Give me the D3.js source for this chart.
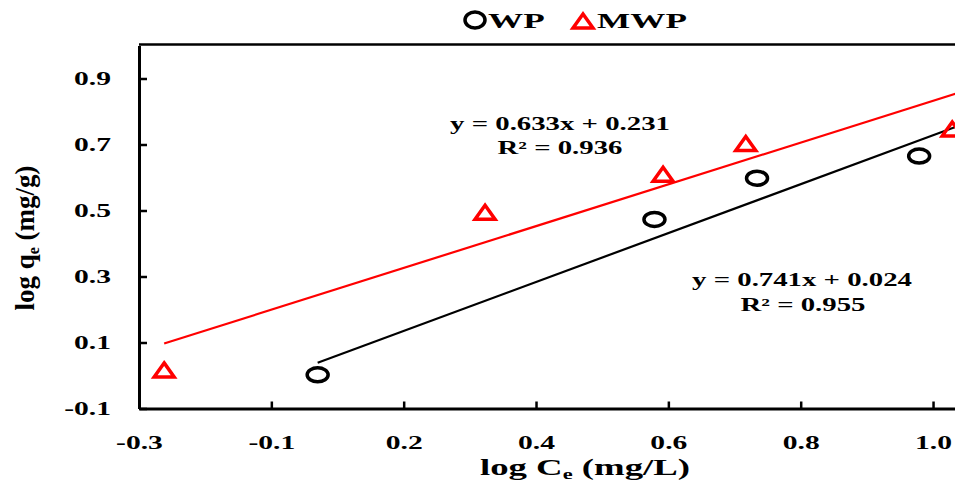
<!DOCTYPE html>
<html><head><meta charset="utf-8">
<script src="https://cdn.jsdelivr.net/npm/d3@7"></script>
<style>body{margin:0;background:#fff}svg{display:block}text{font-family:"Liberation Serif","Times New Roman",serif;font-weight:bold}</style>
</head><body>
<script>
// ---- data ----
const wpX = [0.020, 0.529, 0.684, 0.929];
const wpY = [0.002, 0.473, 0.598, 0.665];
const mwpX = [-0.212, 0.273, 0.542, 0.667, 0.979];
const mwpY = [0.017, 0.495, 0.610, 0.703, 0.747];
const wpFit = {slope: 0.741, intercept: 0.024, r2: "0.955"};
const mwpFit = {slope: 0.633, intercept: 0.231, r2: "0.936"};
const xTickValues = [-0.25, -0.05, 0.15, 0.35, 0.55, 0.75, 0.95];
const xTickLabels = ["-0.3", "-0.1", "0.2", "0.4", "0.6", "0.8", "1.0"];
const yTickValues = [-0.1, 0.1, 0.3, 0.5, 0.7, 0.9];
const yTickLabels = ["-0.1", "0.1", "0.3", "0.5", "0.7", "0.9"];
const seriesNames = ["WP", "MWP"];

const W = 955, H = 483, SX = 1.6;
const svg = d3.select("body").append("svg").attr("width", W).attr("height", H);

const xDomain = [-0.25, 1.05], yDomain = [-0.1, 1.0];
const x = d3.scaleLinear().domain(xDomain).range([139, 139 + 661.7 * (xDomain[1] - xDomain[0])]);
const y = d3.scaleLinear().domain(yDomain).range([408.5, 45.5]);

svg.append("clipPath").attr("id", "plot").append("rect")
  .attr("x", x(xDomain[0])).attr("y", y(yDomain[1]))
  .attr("width", x(xDomain[1]) - x(xDomain[0])).attr("height", y(yDomain[0]) - y(yDomain[1]));

// frame top
svg.append("line").attr("x1", x(xDomain[0])).attr("x2", x(xDomain[1]))
  .attr("y1", y(yDomain[1]) - 1).attr("y2", y(yDomain[1]) - 1).attr("stroke", "#000").attr("stroke-width", 2.5);

// axes
const xAxis = d3.axisBottom(x).tickValues(xTickValues).tickSize(0).tickFormat((d, i) => xTickLabels[i]);
const gx = svg.append("g").attr("transform", `translate(0,${y(yDomain[0])})`).call(xAxis);
gx.select(".domain").attr("stroke-width", 3);
gx.selectAll(".tick line").attr("y2", -7).attr("stroke-width", 2.5);
gx.selectAll(".tick text").attr("y", 0).attr("dy", 0).attr("font-size", 18.5).attr("fill", "#000")
  .attr("text-anchor", "middle")
  .attr("transform", `translate(0,40) scale(${SX},1)`);

const yAxis = d3.axisLeft(y).tickValues(yTickValues).tickSize(0).tickFormat((d, i) => yTickLabels[i]);
const gy = svg.append("g").attr("transform", `translate(${x(xDomain[0])},0)`).call(yAxis);
gy.select(".domain").attr("stroke-width", 3);
gy.selectAll(".tick line").attr("x2", 8).attr("stroke-width", 2.5);
gy.selectAll(".tick text").attr("x", 0).attr("dy", "0.35em").attr("font-size", 18.5).attr("fill", "#000")
  .attr("text-anchor", "end")
  .attr("transform", `translate(-28,0) scale(${SX},1)`);
svg.selectAll(".domain").attr("stroke", "#000");

// trend lines
const plot = svg.append("g").attr("clip-path", "url(#plot)");
function trend(xs, fit, color) {
  const x0 = d3.min(xs), x1 = xDomain[1];
  plot.append("line")
    .attr("x1", x(x0)).attr("y1", y(fit.slope * x0 + fit.intercept))
    .attr("x2", x(x1)).attr("y2", y(fit.slope * x1 + fit.intercept))
    .attr("stroke", color).attr("stroke-width", 2.2);
}
trend(mwpX, mwpFit, "#ff0000");
trend(wpX, wpFit, "#000");

// markers
const tri = (cx, cy) => `M${cx},${cy - 7} L${cx + 10},${cy + 7} L${cx - 10},${cy + 7} Z`;
plot.selectAll(".wp").data(wpX).enter().append("ellipse")
  .attr("cx", d => x(d)).attr("cy", (d, i) => y(wpY[i]))
  .attr("rx", 10.5).attr("ry", 7).attr("fill", "none").attr("stroke", "#000").attr("stroke-width", 3.5);
plot.selectAll(".mwp").data(mwpX).enter().append("path")
  .attr("d", (d, i) => tri(x(d), y(mwpY[i])))
  .attr("fill", "none").attr("stroke", "#ff0000").attr("stroke-width", 3.5).attr("stroke-linejoin", "miter");

// equations
function label(cx, cy, txt, size) {
  svg.append("text").attr("transform", `translate(${cx},${cy}) scale(${SX},1)`)
    .attr("text-anchor", "middle").attr("dy", "0.35em").attr("font-size", size || 18).attr("fill", "#000").text(txt);
}
const fmt = d3.format(".3f");
label(560, 124, `y = ${fmt(mwpFit.slope)}x + ${fmt(mwpFit.intercept)}`);
label(560, 148, `R² = ${mwpFit.r2}`);
label(802, 280, `y = ${fmt(wpFit.slope)}x + ${fmt(wpFit.intercept)}`);
label(803, 305, `R² = ${wpFit.r2}`);

// axis titles
const xt = svg.append("text").attr("transform", `translate(585,475) scale(${SX},1)`)
  .attr("text-anchor", "middle").attr("font-size", 23).attr("fill", "#000");
xt.append("tspan").text("log C");
xt.append("tspan").attr("font-size", 14).attr("dy", 4).text("e");
xt.append("tspan").attr("dy", -4).text(" (mg/L)");

const yt = svg.append("text").attr("transform", `translate(34,238) rotate(-90)`)
  .attr("text-anchor", "middle").attr("font-size", 27).attr("fill", "#000");
yt.append("tspan").text("log q");
yt.append("tspan").attr("font-size", 16).attr("dy", 5).text("e");
yt.append("tspan").attr("dy", -5).text(" (mg/g)");

// legend
const lg = svg.append("g");
lg.append("ellipse").attr("cx", 475).attr("cy", 20).attr("rx", 10).attr("ry", 8)
  .attr("fill", "none").attr("stroke", "#000").attr("stroke-width", 3.5);
lg.append("text").attr("transform", `translate(488,28) scale(${SX},1)`).attr("font-size", 22).attr("fill", "#000").text(seriesNames[0]);
lg.append("path").attr("d", tri(583, 21)).attr("fill", "none").attr("stroke", "#ff0000").attr("stroke-width", 3.5);
lg.append("text").attr("transform", `translate(597,28) scale(${SX},1)`).attr("font-size", 22).attr("fill", "#000").text(seriesNames[1]);
</script>
</body></html>
